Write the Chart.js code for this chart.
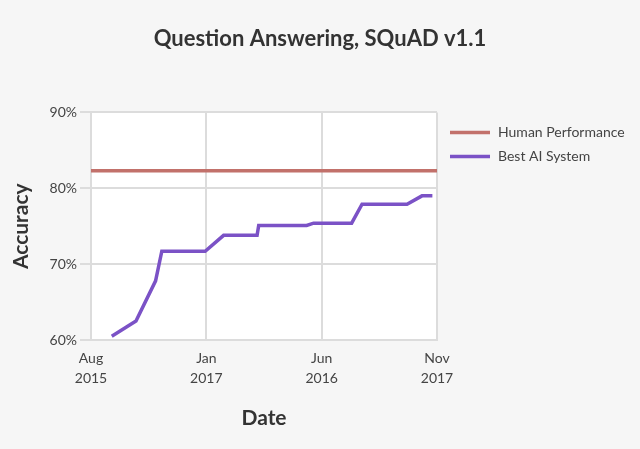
<!DOCTYPE html>
<html>
<head>
<meta charset="utf-8">
<script src="https://cdn.jsdelivr.net/npm/chart.js@4"></script>
<style>
  html, body { margin: 0; padding: 0; background: #f6f6f6; }
  #wrap { width: 640px; height: 449px; }
</style>
</head>
<body>
<div id="wrap"><canvas id="chart" width="640" height="449"></canvas></div>
<script>
// axis ticks (x in months from the first tick, 5 months per tick)
const xTickValues = [0, 5, 10, 15];
const xTickLabels = [['Aug', '2015'], ['Jan', '2017'], ['Jun', '2016'], ['Nov', '2017']];
const yTickValues = [60, 70, 80, 90];

// human baseline
const humanMonths = [0, 15];
const humanAccuracy = [82.3, 82.3];

// best AI system over time
const aiMonths = [0.9, 1.95, 2.8, 3.07, 4.95, 5.75, 7.2, 7.27, 9.35, 9.65, 11.3, 11.75, 13.7, 14.35, 14.8];
const aiAccuracy = [60.5, 62.5, 67.8, 71.7, 71.7, 73.8, 73.8, 75.1, 75.1, 75.4, 75.4, 77.9, 77.9, 79.0, 79.0];

const seriesNames = ['Human Performance', 'Best AI System'];
const seriesColors = ['#c2716b', '#7b52c6'];

const toPoints = (xs, ys) => xs.map((x, i) => ({ x: x, y: ys[i] }));

// white plot background
const plotBg = {
    id: 'plotBg',
    beforeDraw(chart) {
        const a = chart.chartArea, ctx = chart.ctx;
        ctx.save();
        ctx.fillStyle = '#ffffff';
        ctx.fillRect(a.left, a.top, a.right - a.left, a.bottom - a.top);
        ctx.restore();
    }
};

// legend to the right of the plot
const sideLegend = {
    id: 'sideLegend',
    afterDraw(chart) {
        const ctx = chart.ctx, a = chart.chartArea;
        ctx.save();
        ctx.font = '14px Lato';
        ctx.textBaseline = 'middle';
        chart.data.datasets.forEach((ds, i) => {
            const y = a.top + 20 + i * 24;
            ctx.strokeStyle = ds.borderColor;
            ctx.lineWidth = 3.5;
            ctx.beginPath();
            ctx.moveTo(a.right + 13, y);
            ctx.lineTo(a.right + 53, y);
            ctx.stroke();
            ctx.fillStyle = '#444';
            ctx.fillText(ds.label, a.right + 61, y);
        });
        ctx.restore();
    }
};

new Chart(document.getElementById('chart'), {
    type: 'line',
    data: {
        datasets: [{
            label: seriesNames[0],
            data: toPoints(humanMonths, humanAccuracy),
            borderColor: seriesColors[0],
            borderWidth: 3.5,
            pointRadius: 0
        }, {
            label: seriesNames[1],
            data: toPoints(aiMonths, aiAccuracy),
            borderColor: seriesColors[1],
            borderWidth: 3.5,
            pointRadius: 0
        }]
    },
    options: {
        responsive: false,
        animation: false,
        layout: { padding: 0 },
        plugins: {
            legend: { display: false },
            tooltip: { enabled: false },
            title: {
                display: true,
                text: 'Question Answering, SQuAD v1.1',
                color: '#333',
                font: { family: 'Lato', size: 22, weight: 'bold' },
                padding: { top: 26, bottom: 60 }
            }
        },
        scales: {
            x: {
                type: 'linear',
                min: 0,
                max: 15,
                afterFit(scale) { scale.height = 109; },
                afterBuildTicks(scale) { scale.ticks = xTickValues.map(v => ({ value: v })); },
                ticks: {
                    color: '#444',
                    font: { family: 'Lato', size: 14, lineHeight: 1.45 },
                    padding: 8,
                    maxRotation: 0,
                    callback: (v) => xTickLabels[xTickValues.indexOf(v)]
                },
                grid: { color: '#dcdcdc', lineWidth: 2, drawTicks: false },
                border: { color: '#dcdcdc', width: 2 },
                title: {
                    display: true,
                    text: 'Date',
                    color: '#333',
                    font: { family: 'Lato', size: 21, weight: 'bold' },
                    padding: { top: 0, bottom: 18 }
                }
            },
            y: {
                min: 60,
                max: 90,
                afterFit(scale) { scale.width = 91; },
                afterBuildTicks(scale) { scale.ticks = yTickValues.map(v => ({ value: v })); },
                ticks: {
                    color: '#444',
                    font: { family: 'Lato', size: 14 },
                    padding: 3,
                    callback: (v) => v + '%'
                },
                grid: { color: '#dcdcdc', lineWidth: 2, tickLength: 11 },
                border: { color: '#dcdcdc', width: 2 },
                title: {
                    display: true,
                    text: 'Accuracy',
                    color: '#333',
                    font: { family: 'Lato', size: 21, weight: 'bold' },
                    padding: { top: 9, bottom: 0 }
                }
            },
            // empty right-hand axis that only reserves room for the legend
            side: {
                position: 'right',
                afterFit(scale) { scale.width = 203; },
                ticks: { display: false },
                grid: { display: false },
                border: { display: false }
            }
        }
    },
    plugins: [plotBg, sideLegend]
});
</script>
</body>
</html>
